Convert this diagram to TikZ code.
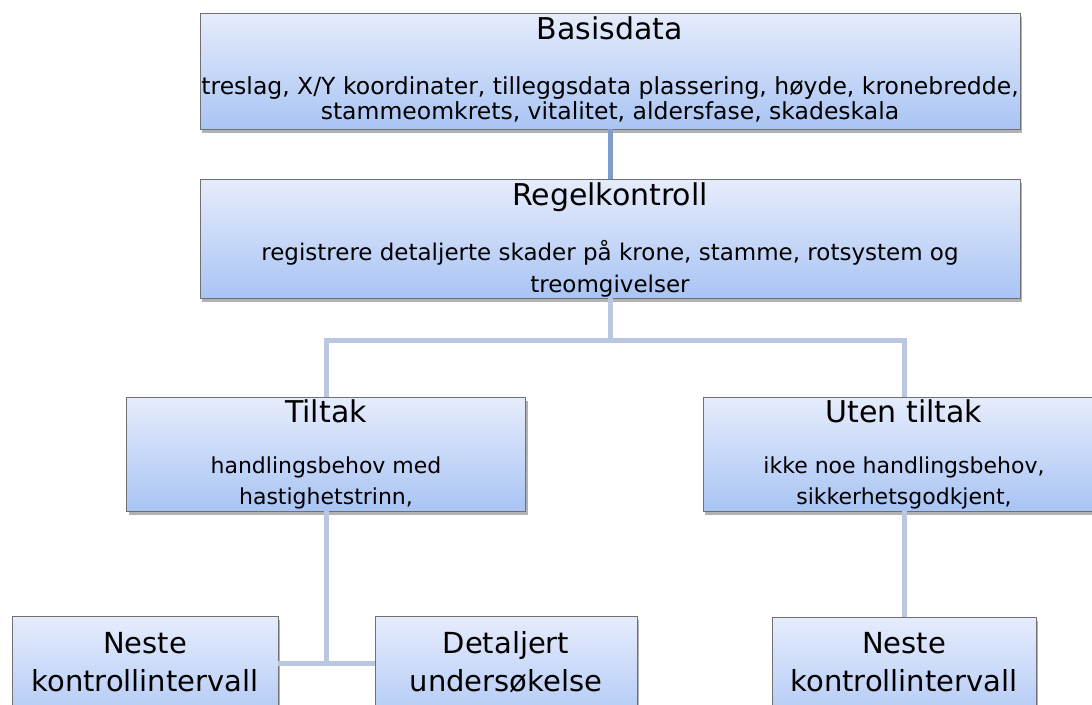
\documentclass[tikz,border=0pt]{standalone}
\usepackage{fontspec}
\setmainfont{DejaVu Sans}
\usetikzlibrary{shadows}
\definecolor{boxtop}{HTML}{E6ECFC}
\definecolor{boxbot}{HTML}{A9C4F4}
\definecolor{boxline}{HTML}{707070}
\definecolor{linkdark}{HTML}{7F9CCB}
\definecolor{linklight}{HTML}{B9C8E0}
\tikzset{
  box/.style={rectangle, draw=boxline, line width=0.8pt, top color=boxtop, bottom color=boxbot,
    drop shadow={shadow xshift=2pt, shadow yshift=-3.5pt, opacity=0.5, fill=black!60}, inner sep=0pt},
  ttl/.style={font=\fontsize{30}{32}\selectfont, inner sep=0pt, text=black},
  body/.style={font=\fontsize{23.5}{25}\selectfont, align=center, inner sep=0pt, text=black},
  big/.style={font=\fontsize{29}{38}\selectfont, align=center, inner sep=0pt, text=black},
  link/.style={line width=5pt, draw=linklight},
}
\begin{document}
\begin{tikzpicture}[x=1pt,y=-1pt]
\useasboundingbox[fill=white] (0,0) rectangle (1092,704);
% boxes
\node[box, minimum width=820pt, minimum height=116pt] (basis) at (610,71) {};
\node[box, minimum width=820pt, minimum height=119pt] (regel) at (610,238.5) {};
\node[box, minimum width=399pt, minimum height=114pt] (tiltak) at (326,454) {};
\node[box, minimum width=402pt, minimum height=114pt] (uten) at (904,454) {};
\node[box, minimum width=266pt, minimum height=120pt] (neste1) at (145,676) {};
\node[box, minimum width=262pt, minimum height=120pt] (detal) at (506,676) {};
\node[box, minimum width=264pt, minimum height=120pt] (neste2) at (904,677) {};
% connectors
\draw[link, draw=linkdark] (basis.south) -- (regel.north);
\coordinate (split) at (610,340);
\draw[link] (regel.south) -- (split);
\draw[link] (split) -| (tiltak.north);
\draw[link] (split) -| (uten.north);
\coordinate (join) at (326,663);
\draw[link] (tiltak.south) -- (join);
\draw[link] (neste1.east |- join) -- (detal.west |- join);
\draw[link] (uten.south) -- (neste2.north);
% texts
\node[ttl] (basisT) at (610,28) {Basisdata};
\node[body] (basisB) at (610,99) {treslag, X/Y koordinater, tilleggsdata plassering, høyde, kronebredde,\\stammeomkrets, vitalitet, aldersfase, skadeskala};
\node[ttl] (regelT) at (610,197) {Regelkontroll};
\node[body, font=\fontsize{23}{32}\selectfont] (regelB) at (610,269) {registrere detaljerte skader på krone, stamme, rotsystem og\\treomgivelser};
\node[ttl] (tiltakT) at (326,411) {Tiltak};
\node[body, font=\fontsize{22}{31}\selectfont] (tiltakB) at (326,483) {handlingsbehov med\\hastighetstrinn,};
\node[ttl] (utenT) at (904,411) {Uten tiltak};
\node[body, font=\fontsize{22}{31}\selectfont] (utenB) at (904,483) {ikke noe handlingsbehov,\\sikkerhetsgodkjent,};
\node[big] (neste1T) at (145,662) {Neste\\kontrollintervall};
\node[big] (detalT) at (506,662) {Detaljert\\undersøkelse};
\node[big] (neste2T) at (904,662) {Neste\\kontrollintervall};
\end{tikzpicture}
\end{document}
